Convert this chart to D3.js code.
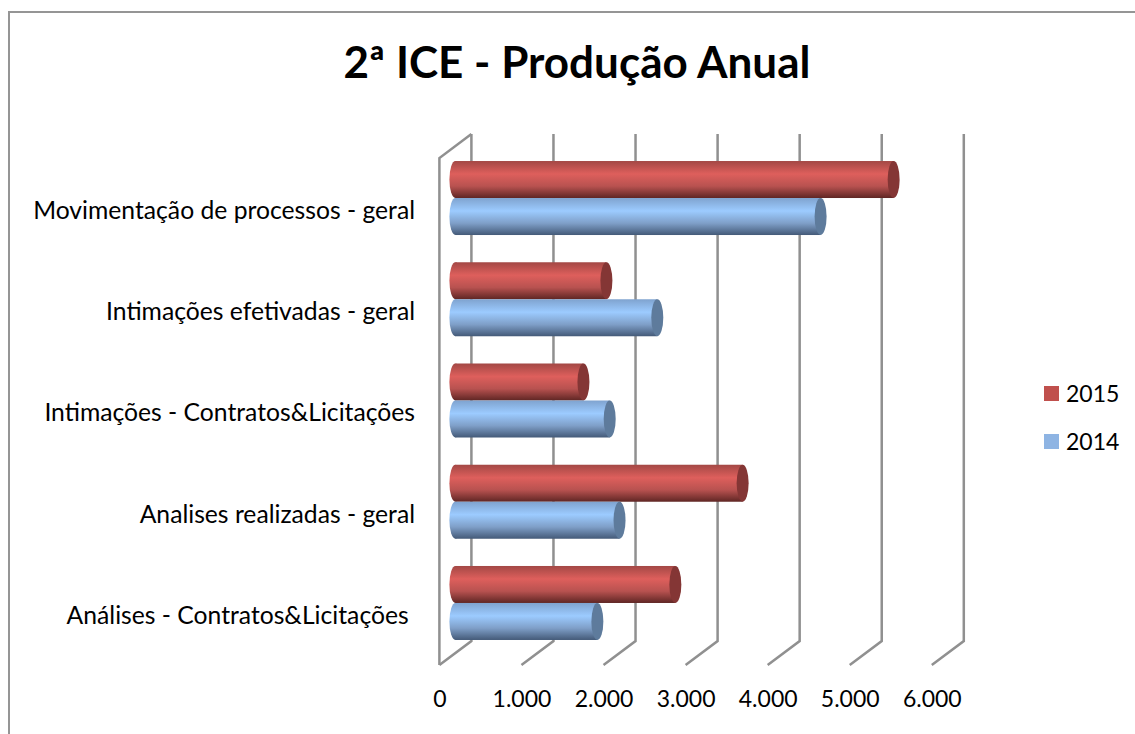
<!DOCTYPE html>
<html>
<head>
<meta charset="utf-8">
<script src="https://cdn.jsdelivr.net/npm/d3@7"></script>
<style>
    html, body { margin: 0; padding: 0; background: #fff; overflow: hidden; }
    text { font-family: Lato, "Open Sans", sans-serif; fill: #000; }
</style>
</head>
<body>
<div id="chart"></div>
<script>
const categories = [
    "Movimentação de processos - geral",
    "Intimações efetivadas - geral",
    "Intimações - Contratos&Licitações",
    "Analises realizadas - geral",
    "Análises - Contratos&Licitações\u00a0"
];
const seriesNames = ["2015", "2014"];
const values2015 = [5340, 1840, 1560, 3500, 2680];
const values2014 = [4450, 2460, 1880, 2000, 1730];
const tickValues = [0, 1000, 2000, 3000, 4000, 5000, 6000];

const width = 1135, height = 734;
const depthX = 16, depthY = 12;   // half of the 3d floor offset
const capRadius = 6;

const svg = d3.select("#chart").append("svg")
    .attr("width", width)
    .attr("height", height);

// chart frame, only left and top are inside the picture
svg.append("path")
    .attr("d", "M9,734V12H1135")
    .attr("fill", "none")
    .attr("stroke", "#959595")
    .attr("stroke-width", 2);

svg.append("text")
    .attr("x", 577)
    .attr("y", 78)
    .attr("text-anchor", "middle")
    .style("font-size", "44px")
    .style("font-weight", "bold")
    .text("2ª ICE - Produção Anual");

const x = d3.scaleLinear().domain([0, 6000]).range([455.4, 947.8]);
const y = d3.scaleBand().domain(categories).range([147.4, 653.6]).paddingInner(0.269).paddingOuter(0.1345);
const ySeries = d3.scaleBand().domain(seriesNames).range([0, y.bandwidth()]);
const color = d3.scaleOrdinal().domain(seriesNames).range(["#c0504d", "#8eb4e3"]);
const capColor = d3.scaleOrdinal().domain(seriesNames).range(["#843635", "#5e7b9c"]);

const defs = svg.append("defs");
const stops = {
    "2015": ["#a34845", "#de5f5c", "#b85250", "#5f2624"],
    "2014": ["#7fa3cf", "#9ccbff", "#7f9fc8", "#445a78"]
};
seriesNames.forEach(function (s) {
    const grad = defs.append("linearGradient")
        .attr("id", "grad" + s)
        .attr("x1", 0).attr("y1", 0).attr("x2", 0).attr("y2", 1);
    [0, 0.35, 0.68, 1].forEach(function (o, i) {
        grad.append("stop").attr("offset", o).attr("stop-color", stops[s][i]);
    });
});

const wallTop = 134, wallBottom = 641;
const wallColor = "#909090";

// back wall and floor lines
const grid = svg.append("g")
    .attr("fill", "none")
    .attr("stroke", wallColor)
    .attr("stroke-width", 2.5);

grid.selectAll(".back")
    .data(tickValues)
    .enter().append("path")
    .attr("class", "back")
    .attr("d", d => "M" + (x(d) + depthX) + "," + wallTop + "V" + wallBottom + "L" + (x(d) - depthX) + "," + (wallBottom + 2 * depthY));

// side wall
grid.append("path")
    .attr("d", "M" + (x(0) - depthX) + "," + (wallBottom + 2 * depthY) + "V" + (wallTop + 2 * depthY) + "L" + (x(0) + depthX) + "," + wallTop);

const rows = [];
categories.forEach(function (c, i) {
    rows.push({category: c, series: "2015", value: values2015[i]});
    rows.push({category: c, series: "2014", value: values2014[i]});
});

const bars = svg.selectAll(".bar")
    .data(rows)
    .enter().append("g")
    .attr("class", "bar")
    .attr("transform", d => "translate(0," + (y(d.category) + ySeries(d.series)) + ")");

bars.append("ellipse")
    .attr("cx", x(0))
    .attr("cy", ySeries.bandwidth() / 2)
    .attr("rx", capRadius)
    .attr("ry", ySeries.bandwidth() / 2)
    .attr("fill", d => "url(#grad" + d.series + ")");

bars.append("rect")
    .attr("x", x(0))
    .attr("width", d => x(d.value) - x(0))
    .attr("height", ySeries.bandwidth())
    .attr("fill", d => "url(#grad" + d.series + ")");

bars.append("ellipse")
    .attr("cx", d => x(d.value))
    .attr("cy", ySeries.bandwidth() / 2)
    .attr("rx", capRadius)
    .attr("ry", ySeries.bandwidth() / 2)
    .attr("fill", d => capColor(d.series));

// value axis sits on the front edge of the floor
const locale = d3.formatLocale({decimal: ",", thousands: ".", grouping: [3], currency: ["", ""]});
const xAxis = svg.append("g")
    .attr("transform", "translate(" + (-depthX) + ",685)")
    .call(d3.axisBottom(x).tickValues(tickValues).tickFormat(locale.format(",d")).tickSize(0).tickPadding(6));
xAxis.select(".domain").remove();
xAxis.selectAll("text")
    .style("font-size", "23px")
    .style("font-family", "Lato, sans-serif");

// category labels
const yAxis = svg.append("g")
    .attr("transform", "translate(415,13)")
    .call(d3.axisLeft(y).tickSize(0).tickPadding(0));
yAxis.select(".domain").remove();
yAxis.selectAll("text")
    .style("font-size", "24.7px")
    .style("font-family", "Lato, sans-serif");

// legend
const legendY = d3.scalePoint().domain(seriesNames).range([393.5, 441.5]);
const legend = svg.selectAll(".legend")
    .data(seriesNames)
    .enter().append("g")
    .attr("class", "legend")
    .attr("transform", d => "translate(1044," + legendY(d) + ")");

legend.append("rect")
    .attr("y", -7.5)
    .attr("width", 15)
    .attr("height", 15)
    .attr("fill", d => color(d));

legend.append("text")
    .attr("x", 22)
    .attr("dy", "0.35em")
    .style("font-size", "23px")
    .text(d => d);
</script>
</body>
</html>
